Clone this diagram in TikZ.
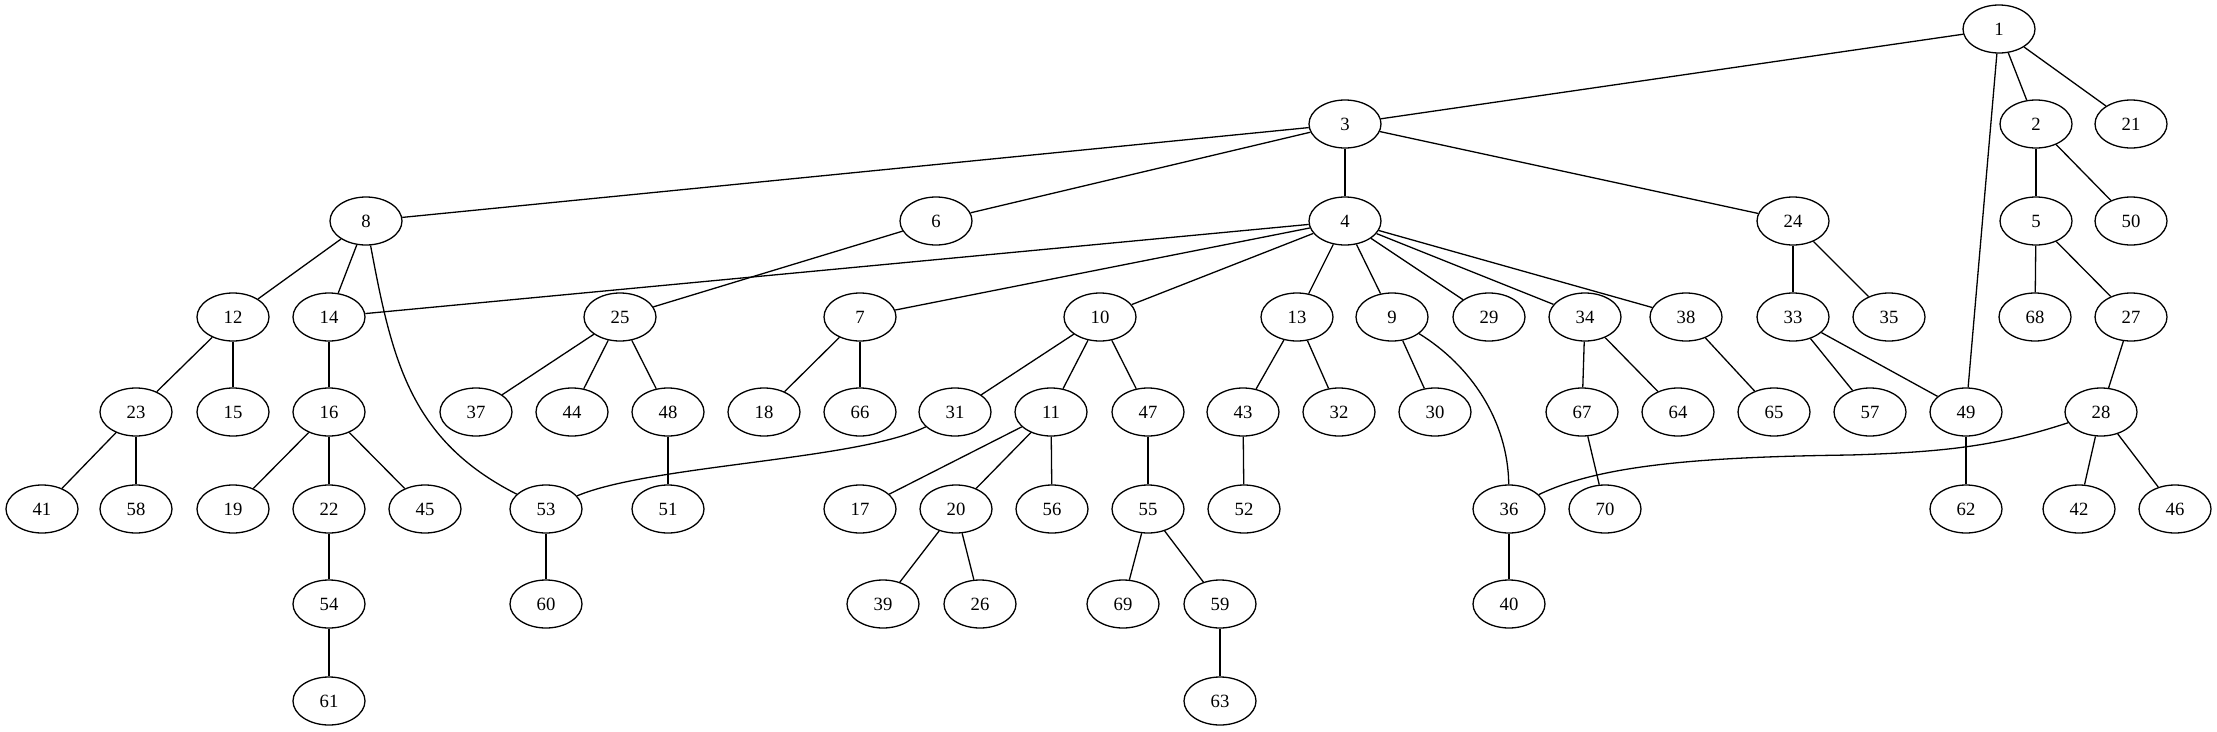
\documentclass[tikz,border=0pt]{standalone}
\usepackage{fontspec}
\setmainfont{Liberation Serif}
\usetikzlibrary{shapes.geometric}
\begin{document}
\begin{tikzpicture}[x=1pt,y=-1pt,
  vtx/.style={ellipse,draw,line width=1.3pt,minimum width=72pt,minimum height=48pt,inner sep=0pt,font=\fontsize{18.7}{22}\selectfont},
  edge/.style={line width=1.3pt}]
\useasboundingbox (0,0) rectangle (2217,731);
% rank 0
\node[vtx] (n1) at (1999,29) {1};
% rank 1
\foreach \n/\x in {3/1345,2/2036,21/2131} \node[vtx] (n\n) at (\x,124) {\n};
% rank 2
\foreach \n/\x in {8/366,6/936,4/1345,24/1793,5/2036,50/2131} \node[vtx] (n\n) at (\x,221) {\n};
% rank 3
\foreach \n/\x in {12/233,14/329,25/620,7/860,10/1100,13/1297,9/1392,29/1489,34/1585,38/1686,33/1793,35/1889,68/2035,27/2131} \node[vtx] (n\n) at (\x,317) {\n};
% rank 4
\foreach \n/\x in {23/136,15/233,16/329,37/476,44/572,48/668,18/764,66/860,31/955,11/1051,47/1148,43/1243,32/1339,30/1435,67/1582,64/1678,65/1774,57/1870,49/1966,28/2101} \node[vtx] (n\n) at (\x,412) {\n};
% rank 5
\foreach \n/\x in {41/42,58/136,19/233,22/329,45/425,53/546,51/668,17/860,20/956,56/1052,55/1148,52/1244,36/1509,70/1605,62/1966,42/2079,46/2175} \node[vtx] (n\n) at (\x,509) {\n};
% rank 6
\foreach \n/\x in {54/329,60/546,39/883,26/980,69/1123,59/1220,40/1509} \node[vtx] (n\n) at (\x,604) {\n};
% rank 7
\foreach \n/\x in {61/329,63/1220} \node[vtx] (n\n) at (\x,701) {\n};
% straight edges
\foreach \a/\b in {1/3,1/2,1/21,1/49,3/8,3/6,3/4,3/24,2/5,2/50,8/12,8/14,6/25,
  4/14,4/7,4/10,4/13,4/9,4/29,4/34,4/38,24/33,24/35,5/68,5/27,12/23,12/15,14/16,
  25/37,25/44,25/48,7/18,7/66,10/31,10/11,10/47,13/43,13/32,9/30,34/67,34/64,38/65,
  33/57,33/49,27/28,23/41,23/58,16/19,16/22,16/45,48/51,11/17,11/20,11/56,47/55,
  43/52,67/70,49/62,28/42,28/46,22/54,53/60,20/39,20/26,55/69,55/59,36/40,54/61,59/63}
  \draw[edge] (n\a) -- (n\b);
% curved edges
\draw[edge] (n8) .. controls (392,360) and (410,440) .. (n53);
\draw[edge] (n31) .. controls (860,460) and (650,465) .. (n53);
\draw[edge] (n9) .. controls (1470,365) and (1508,420) .. (n36);
\draw[edge] (n28) .. controls (2000,445) and (1950,452) .. (1850,455) .. controls (1700,457) and (1600,465) .. (n36);
\end{tikzpicture}
\end{document}
